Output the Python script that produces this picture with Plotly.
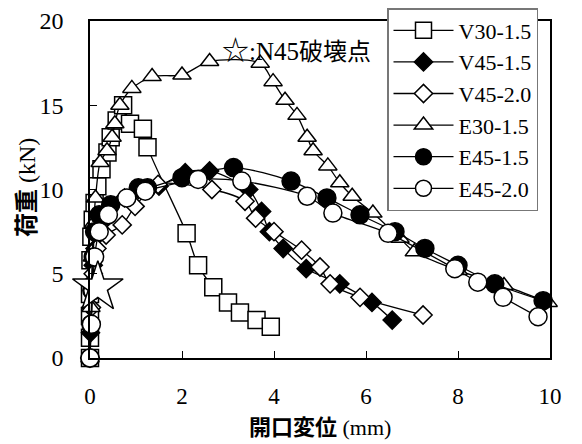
import plotly.graph_objects as go

# ---- data ----
v30_x = [0, 0, 0, 0, 0.01, 0.03, 0.06, 0.10, 0.16, 0.25, 0.38, 0.45, 0.58, 0.72, 0.87, 1.15, 1.25, 2.10, 2.35, 2.68, 3.00, 3.26, 3.62, 3.93]
v30_y = [0, 1.2, 2.5, 3.8, 5.8, 7.2, 8.2, 9.2, 10.2, 11.2, 12.2, 13.1, 14.1, 15.0, 13.9, 13.6, 12.5, 7.4, 5.5, 4.2, 3.3, 2.7, 2.25, 1.85]

v45a_x = [0, 0.01, 0.02, 0.04, 0.07, 0.11, 0.17, 0.25, 0.40, 0.75, 1.05, 1.50, 2.07, 2.60, 3.45, 3.73, 3.90, 4.20, 4.70, 5.43, 6.13, 6.57]
v45a_y = [0, 1.5, 3.0, 4.5, 5.5, 6.5, 7.3, 8.0, 8.8, 9.5, 10.0, 10.2, 11.0, 11.1, 10.0, 8.7, 7.5, 6.5, 5.3, 4.4, 3.3, 2.25]

v45b_x = [0, 0.03, 0.07, 0.15, 0.35, 0.70, 0.98, 1.48, 2.65, 3.37, 3.60, 4.00, 4.60, 5.00, 5.22, 5.87, 7.24]
v45b_y = [0, 3.0, 5.0, 6.5, 7.3, 7.9, 9.0, 10.3, 10.0, 9.3, 8.3, 7.5, 6.4, 5.4, 4.4, 3.6, 2.55]

e30_x = [0, 0.02, 0.05, 0.08, 0.12, 0.22, 0.37, 0.48, 0.54, 0.65, 0.91, 1.35, 2.00, 2.60, 3.70, 3.98, 4.24, 4.50, 4.72, 4.85, 5.17, 5.43, 5.70, 6.15, 6.74, 7.05, 8.00, 9.00, 9.96]
e30_y = [0, 3.0, 6.0, 8.0, 9.5, 11.6, 12.3, 13.1, 13.9, 15.0, 16.0, 16.7, 16.8, 17.6, 17.5, 16.4, 15.3, 14.4, 13.1, 12.3, 11.4, 10.4, 9.6, 8.6, 7.1, 6.3, 5.2, 4.3, 3.3]

e45a_x = [0, 0.02, 0.04, 0.07, 0.10, 0.20, 0.45, 1.05, 1.25, 2.00, 3.12, 4.37, 5.15, 5.87, 6.63, 7.28, 8.00, 8.80, 9.85]
e45a_y = [0, 2.0, 4.0, 6.0, 7.5, 8.5, 9.1, 10.1, 10.1, 10.7, 11.3, 10.5, 9.5, 8.5, 7.5, 6.5, 5.5, 4.4, 3.4]

e45b_x = [0, 0.03, 0.06, 0.10, 0.20, 0.40, 0.80, 1.20, 2.35, 3.30, 4.72, 5.28, 6.48, 7.93, 8.43, 8.98, 9.74]
e45b_y = [0, 2.0, 4.0, 6.0, 7.5, 8.5, 9.5, 9.9, 10.6, 10.5, 9.6, 8.6, 7.4, 5.3, 4.5, 3.6, 2.45]

n45_x = [0.17]
n45_y = [4.2]

x_ticks = [0, 2, 4, 6, 8, 10]
y_ticks = [0, 5, 10, 15, 20]

FONT = "Liberation Serif, 'Times New Roman', 'Noto Sans CJK JP', serif"
CJK = "'Noto Sans CJK JP', sans-serif"

series = [
    ("V30-1.5", v30_x, v30_y, "square", "white", 17),
    ("V45-1.5", v45a_x, v45a_y, "diamond", "black", 14),
    ("V45-2.0", v45b_x, v45b_y, "diamond", "white", 14),
    ("E30-1.5", e30_x, e30_y, "triangle-up", "white", 16),
    ("E45-1.5", e45a_x, e45a_y, "circle", "black", 18),
    ("E45-2.0", e45b_x, e45b_y, "circle", "white", 18),
]

fig = go.Figure()
for name, xs, ys, sym, fill, size in series:
    fig.add_trace(go.Scatter(
        x=xs, y=ys, name=name, mode="lines+markers",
        line=dict(color="black", width=1.3, shape="spline", smoothing=0.8),
        marker=dict(symbol=sym, size=size, color=fill,
                    line=dict(color="black", width=1.5)),
        cliponaxis=False,
    ))

fig.add_trace(go.Scatter(
    x=n45_x, y=n45_y, mode="markers", showlegend=False,
    marker=dict(symbol="star", size=38, color="white",
                line=dict(color="black", width=1.5)),
    cliponaxis=False,
))

# annotation inside the plot
fig.add_annotation(
    x=0.448, y=1.0, xref="paper", yref="paper",
    xanchor="center", yanchor="top", yshift=-6,
    text=(f"<span style=\"font-family:{CJK};font-size:27px\">☆</span>:N45"
          f"<span style=\"font-family:{CJK};font-size:24px\">破壊点</span>"),
    showarrow=False, font=dict(family=FONT, size=25, color="black"),
)

# axis titles
fig.add_annotation(
    x=0.5, y=(358 - 425) / 337, xref="paper", yref="paper",
    xanchor="center", yanchor="middle",
    text=f"<span style=\"font-family:{CJK}\"><b>開口変位</b></span> (mm)",
    showarrow=False, font=dict(family=FONT, size=22, color="black"),
)
fig.add_annotation(
    x=(24 - 90) / 460, y=(358 - 188) / 337, xref="paper", yref="paper",
    xanchor="center", yanchor="middle", textangle=-90,
    text=f"<span style=\"font-family:{CJK}\"><b>荷重</b></span> (kN)",
    showarrow=False, font=dict(family=FONT, size=24, color="black"),
)

fig.update_layout(
    width=582, height=444,
    margin=dict(l=90, r=32, t=21, b=86, autoexpand=False),
    paper_bgcolor="white", plot_bgcolor="white",
    font=dict(family=FONT, size=24, color="black"),
    showlegend=True,
    legend=dict(
        x=387 / 582, y=1 - 8 / 444, xref="container", yref="container",
        xanchor="left", yanchor="top",
        bgcolor="white", bordercolor="#777777", borderwidth=1.5,
        font=dict(family=FONT, size=22, color="black"),
        itemwidth=60, tracegroupgap=0,
    ),
)

fig.update_xaxes(
    range=[0, 10], tickvals=x_ticks, ticktext=[str(v) for v in x_ticks],
    ticks="inside", ticklen=7, tickwidth=1.2, tickcolor="black",
    showline=True, linecolor="black", linewidth=1.5, mirror=True,
    showgrid=False, zeroline=False, ticklabelstandoff=17, automargin=False,
    tickfont=dict(size=23),
)
fig.update_yaxes(
    range=[0, 20], tickvals=y_ticks, ticktext=[str(v) for v in y_ticks],
    ticks="inside", ticklen=7, tickwidth=1.2, tickcolor="black",
    showline=True, linecolor="black", linewidth=1.5, mirror=True,
    showgrid=False, zeroline=False, ticklabelstandoff=20, automargin=False,
)

fig.write_html("out.html", config={"displayModeBar": False},
               post_script="document.body.style.margin='0';")
